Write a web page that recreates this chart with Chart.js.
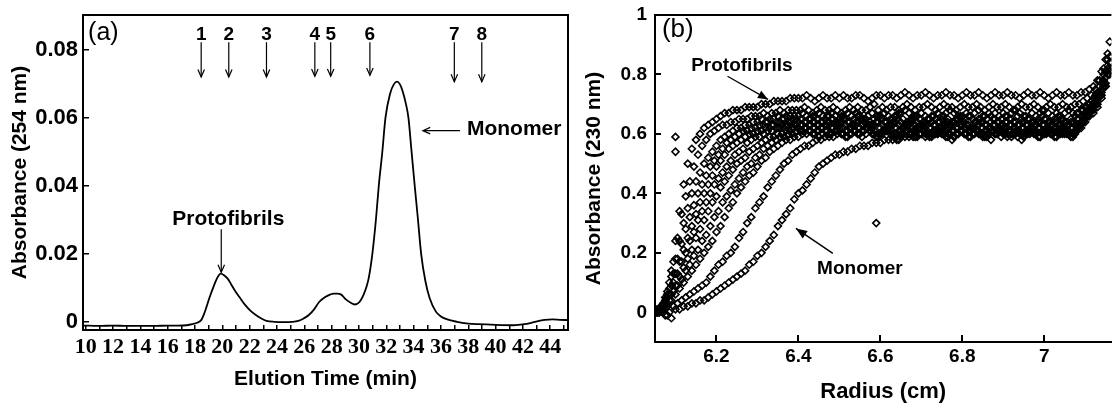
<!DOCTYPE html>
<html>
<head>
<meta charset="utf-8">
<title>Protofibrils vs monomer</title>
<script src="https://cdn.jsdelivr.net/npm/chart.js@4.4.0/dist/chart.umd.min.js"></script>
<style>
  html, body { margin: 0; padding: 0; background: #fff; }
  #wrap { position: relative; width: 1117px; height: 407px; overflow: hidden; }
  .panel { position: absolute; top: 0; height: 407px; }
  #panelA { left: 0; width: 575px; }
  #panelB { left: 575px; width: 542px; }
</style>
</head>
<body>
<div id="wrap">
  <div class="panel" id="panelA"><canvas id="chartA"></canvas></div>
  <div class="panel" id="panelB"><canvas id="chartB"></canvas></div>
</div>
<script>
// ---- panel (a): SEC trace ----
const elutionTime = [9.8, 11, 12, 13, 14, 15, 16, 16.7, 17.4, 17.8, 18.2, 18.45, 18.65, 18.84, 19.1, 19.35, 19.6, 19.87,
  20.1, 20.39, 20.65, 20.9, 21.3, 21.68, 22.05, 22.45, 22.85, 23.23, 23.8, 24.52, 25.1, 25.56, 25.95, 26.33, 26.7,
  27.1, 27.5, 27.88, 28.15, 28.4, 28.7, 29.04, 29.4, 29.69, 29.95, 30.15, 30.34, 30.55, 30.72, 30.98, 31.24, 31.45,
  31.71, 31.94, 32.27, 32.55, 32.79, 33.0, 33.18, 33.44, 33.62, 33.85, 34.08, 34.32, 34.55, 34.86, 35.17, 35.63, 36.0,
  36.41, 37.18, 38.0, 38.73, 40.0, 41.32, 42.09, 42.6, 43.13, 43.6, 44.16, 44.7, 45.3];
const absorbance254 = [-0.0011, -0.0012, -0.0011, -0.0012, -0.0012, -0.0012, -0.0011, -0.0011, -0.001, -0.0007, -0.0002,
  0.0005, 0.0022, 0.0044, 0.0076, 0.0103, 0.0127, 0.0142,
  0.0138, 0.0127, 0.011, 0.0093, 0.007, 0.0049, 0.0033, 0.002, 0.001, 0.0003, 0, -0.0001, 0, 0.0003, 0.001, 0.002, 0.0036,
  0.0059, 0.0072, 0.008, 0.0083, 0.0083, 0.008, 0.0066, 0.0056, 0.0051, 0.0055, 0.0065, 0.008, 0.0103, 0.013, 0.02, 0.03, 0.04,
  0.05, 0.06, 0.067, 0.0698, 0.0706, 0.0698, 0.068, 0.064, 0.06, 0.05, 0.04, 0.03, 0.02, 0.012, 0.007, 0.003, 0.0016,
  0.0008, 0, -0.0005, -0.0007, -0.0009, -0.001, -0.0007, -0.0003, 0.0002, 0.0006, 0.0007, 0.0006, 0.0005];
const timeTicks = [10, 11, 12, 13, 14, 15, 16, 17, 18, 19, 20, 21, 22, 23, 24, 25, 26, 27, 28, 29, 30,
  31, 32, 33, 34, 35, 36, 37, 38, 39, 40, 41, 42, 43, 44, 45];
const timeTickLabels = ['10', '12', '14', '16', '18', '20', '22', '24', '26', '28', '30', '32', '34', '36', '38', '40', '42', '44'];
const absTicksA = [0, 0.02, 0.04, 0.06, 0.08];
const absTickLabelsA = ['0', '0.02', '0.04', '0.06', '0.08'];
// fraction markers 1..8
const markerLabels = ['1', '2', '3', '4', '5', '6', '7', '8'];
const markerTimes = [18.45, 20.47, 23.23, 26.77, 27.93, 30.8, 36.98, 38.99];
const markerTips = [0.072, 0.072, 0.072, 0.0722, 0.0722, 0.0725, 0.0706, 0.0706];

// ---- panel (b): sedimentation scans ----
const radiusGrid1 = [6.05, 6.06, 6.07, 6.08, 6.09, 6.10, 6.11, 6.12, 6.13, 6.14,
  6.15, 6.16, 6.17, 6.18, 6.19, 6.20, 6.21, 6.22, 6.23, 6.24,
  6.25, 6.26, 6.27, 6.28, 6.29, 6.30, 6.31, 6.32, 6.33, 6.34,
  6.35, 6.36, 6.37, 6.38, 6.39, 6.40, 6.41, 6.42, 6.43, 6.44,
  6.45, 6.46, 6.47, 6.48, 6.49, 6.50, 6.51, 6.52, 6.53, 6.54,
  6.55, 6.56, 6.57, 6.58, 6.59, 6.60, 6.61, 6.62, 6.63, 6.64,
  6.65, 6.66, 6.67, 6.68, 6.69, 6.70, 6.71, 6.72, 6.73, 6.74,
  6.75, 6.76, 6.77, 6.78, 6.79, 6.80, 6.81, 6.82, 6.83, 6.84,
  6.85, 6.86, 6.87, 6.88, 6.89, 6.90, 6.91, 6.92, 6.93, 6.94,
  6.95, 6.96, 6.97, 6.98, 6.99, 7.00, 7.01, 7.02, 7.03, 7.04,
  7.05, 7.06, 7.07, 7.08, 7.09, 7.10, 7.11, 7.12, 7.13, 7.14,
  7.15, 7.16];
const radiusGrid2 = [6.055, 6.065, 6.075, 6.085, 6.095, 6.105, 6.115, 6.125, 6.135, 6.145,
  6.155, 6.165, 6.175, 6.185, 6.195, 6.205, 6.215, 6.225, 6.235, 6.245,
  6.255, 6.265, 6.275, 6.285, 6.295, 6.305, 6.315, 6.325, 6.335, 6.345,
  6.355, 6.365, 6.375, 6.385, 6.395, 6.405, 6.415, 6.425, 6.435, 6.445,
  6.455, 6.465, 6.475, 6.485, 6.495, 6.505, 6.515, 6.525, 6.535, 6.545,
  6.555, 6.565, 6.575, 6.585, 6.595, 6.605, 6.615, 6.625, 6.635, 6.645,
  6.655, 6.665, 6.675, 6.685, 6.695, 6.705, 6.715, 6.725, 6.735, 6.745,
  6.755, 6.765, 6.775, 6.785, 6.795, 6.805, 6.815, 6.825, 6.835, 6.845,
  6.855, 6.865, 6.875, 6.885, 6.895, 6.905, 6.915, 6.925, 6.935, 6.945,
  6.955, 6.965, 6.975, 6.985, 6.995, 7.005, 7.015, 7.025, 7.035, 7.045,
  7.055, 7.065, 7.075, 7.085, 7.095, 7.105, 7.115, 7.125, 7.135, 7.145,
  7.155];

const scanA = [.01,0,.02,.06,.14,.24,.34,.43,.50,.55,.58,.60,.62,.63,.64,.65,.66,.67,.67,.68,.68,.68,.69,.69,.69,.69,.70,.70,.70,.71,.71,.71,.71,.72,.72,
  .72,.72,.73,.72,.71,.72,.73,.72,.72,.73,.72,.73,.72,.72,.73,.73,.72,.71,.72,.73,.73,.72,.73,.73,.72,.73,.74,.73,.72,.73,.73,.74,.73,.72,
  .73,.73,.74,.73,.73,.72,.73,.74,.73,.73,.74,.73,.72,.73,.74,.73,.73,.74,.73,.73,.72,.73,.74,.73,.73,.74,.73,.72,.73,.74,.73,.73,.74,.73,
  .73,.74,.74,.75,.76,.78,.81,.85,.91];
const scanB = [0,.02,.05,.10,.17,.25,.33,.39,.44,.49,.53,.56,.58,.60,.61,.62,.63,.63,.64,.64,.65,.65,.65,.66,.66,.66,.67,.66,.67,.67,.68,.67,.68,.68,.68,
  .68,.69,.68,.67,.68,.69,.68,.68,.69,.68,.67,.68,.69,.68,.69,.68,.68,.69,.70,.68,.69,.68,.69,.69,.68,.69,.70,.69,.68,.69,.69,.70,.69,.68,
  .69,.70,.69,.69,.68,.69,.70,.69,.69,.70,.69,.68,.69,.70,.69,.69,.70,.69,.68,.69,.70,.69,.69,.70,.69,.68,.69,.70,.69,.69,.70,.69,.69,.70,
  .70,.71,.72,.73,.75,.78,.82,.87];
const scanC = [0,.01,.03,.07,.12,.18,.24,.30,.35,.40,.44,.47,.50,.52,.54,.56,.58,.59,.60,.61,.62,.62,.63,.63,.64,.64,.65,.64,.65,.65,.66,.65,.66,.66,.66,
  .66,.67,.66,.65,.66,.67,.66,.66,.67,.66,.65,.66,.67,.66,.67,.66,.65,.66,.67,.66,.66,.67,.66,.65,.66,.67,.68,.67,.66,.66,.67,.66,.65,.66,
  .67,.66,.67,.68,.67,.66,.66,.67,.66,.67,.68,.66,.65,.66,.67,.66,.67,.66,.67,.68,.67,.66,.65,.67,.66,.67,.68,.67,.66,.67,.66,.67,.68,.67,
  .67,.68,.69,.70,.72,.74,.77,.81,.86];
const scanD = [.01,.02,.04,.08,.13,.18,.23,.28,.32,.36,.40,.43,.46,.49,.51,.53,.55,.57,.58,.59,.60,.61,.61,.62,.62,.63,.63,.64,.63,.64,.64,.65,.64,.65,.65,
  .65,.64,.65,.66,.65,.64,.65,.66,.65,.64,.66,.65,.64,.65,.66,.65,.65,.64,.65,.66,.65,.64,.65,.66,.67,.65,.64,.65,.66,.65,.64,.65,.66,.65,
  .64,.66,.65,.64,.65,.66,.65,.66,.65,.64,.65,.66,.67,.65,.64,.65,.66,.65,.64,.66,.65,.66,.65,.64,.65,.66,.65,.64,.65,.66,.65,.64,.65,.66,
  .67,.68,.69,.71,.73,.76,.80,.85];
const scanE = [0,.01,.02,.05,.09,.13,.17,.21,.25,.29,.33,.37,.40,.43,.46,.49,.51,.53,.55,.56,.57,.58,.59,.60,.60,.61,.61,.62,.62,.63,.62,.63,.63,.64,.63,
  .64,.63,.64,.65,.64,.63,.64,.64,.65,.63,.64,.65,.64,.63,.64,.65,.64,.63,.62,.64,.65,.64,.63,.64,.65,.64,.63,.64,.65,.64,.63,.64,.65,.63,
  .64,.65,.64,.63,.64,.65,.64,.63,.62,.64,.65,.64,.63,.64,.65,.64,.63,.64,.65,.64,.63,.64,.65,.64,.63,.64,.65,.64,.63,.64,.65,.64,.63,.64,
  .65,.66,.67,.68,.70,.72,.75,.79,.84];
const scanF = [0,.01,.03,.06,.10,.13,.17,.20,.24,.27,.31,.34,.37,.40,.43,.45,.47,.49,.51,.53,.54,.55,.57,.58,.59,.59,.60,.61,.61,.62,.62,.62,.63,.62,.63,
  .63,.62,.63,.64,.63,.62,.63,.64,.62,.63,.64,.63,.62,.63,.64,.63,.62,.61,.63,.64,.63,.62,.63,.64,.63,.62,.63,.64,.63,.62,.61,.63,.64,.63,
  .62,.63,.64,.63,.62,.63,.64,.63,.62,.63,.64,.63,.62,.63,.61,.63,.64,.63,.62,.63,.64,.63,.62,.63,.64,.63,.62,.63,.64,.63,.62,.63,.64,.63,
  .65,.66,.68,.69,.71,.74,.78,.83];
const scanG = [.01,0,.01,.03,.06,.09,.12,.15,.18,.21,.25,.28,.31,.34,.37,.39,.42,.44,.46,.48,.50,.51,.52,.54,.55,.56,.57,.58,.59,.59,.60,.60,.61,.61,.62,
  .62,.61,.62,.63,.62,.61,.62,.63,.62,.61,.63,.62,.61,.62,.63,.62,.61,.62,.63,.64,.62,.61,.62,.63,.62,.61,.62,.63,.62,.61,.62,.63,.62,.61,
  .60,.62,.63,.62,.61,.62,.63,.62,.61,.62,.63,.62,.61,.62,.63,.62,.61,.62,.63,.62,.61,.62,.63,.62,.61,.62,.63,.62,.61,.62,.63,.62,.61,.62,
  .63,.64,.66,.67,.69,.71,.74,.77,.82];
const scanH2 = [0,.01,.02,.04,.07,.09,.11,.14,.16,.19,.21,.24,.26,.29,.32,.34,.37,.39,.41,.43,.45,.47,.49,.50,.52,.53,.55,.56,.57,.58,.59,.59,.60,.60,.61,
  .61,.62,.61,.60,.61,.62,.61,.60,.62,.61,.60,.61,.62,.61,.60,.61,.62,.63,.61,.60,.61,.62,.61,.60,.61,.62,.61,.60,.61,.62,.63,.61,.60,.61,
  .62,.61,.60,.61,.62,.61,.60,.61,.62,.61,.60,.61,.62,.61,.60,.61,.62,.61,.60,.61,.62,.61,.60,.61,.62,.61,.60,.61,.62,.61,.60,.61,.62,.61,
  .63,.64,.66,.68,.70,.73,.77,.82];
const scanI = [0,0,.01,.02,.04,.06,.08,.10,.12,.14,.16,.18,.20,.22,.24,.27,.29,.32,.35,.37,.40,.42,.44,.46,.47,.49,.51,.52,.54,.55,.56,.57,.58,.58,.59,
  .59,.60,.60,.61,.60,.59,.60,.61,.60,.61,.62,.60,.59,.60,.61,.60,.61,.62,.60,.59,.60,.61,.62,.60,.59,.60,.61,.60,.61,.62,.60,.59,.60,.61,
  .60,.61,.62,.60,.59,.60,.61,.60,.61,.62,.60,.59,.60,.61,.60,.61,.62,.60,.59,.60,.61,.60,.61,.62,.60,.59,.60,.61,.60,.61,.62,.60,.61,.60,
  .62,.63,.65,.66,.68,.70,.73,.76,.81];
const scanH = [0,.01,-.01,0,.02,.03,.04,.05,.06,.07,.08,.09,.10,.12,.14,.16,.17,.19,.20,.22,.25,.27,.30,.32,.35,.37,.39,.42,.44,.46,.48,.50,.51,.53,.54,
  .55,.56,.56,.57,.58,.58,.59,.59,.59,.60,.60,.59,.60,.61,.60,.59,.60,.61,.60,.59,.60,.61,.60,.59,.58,.60,.61,.60,.59,.60,.61,.60,.59,.60,
  .61,.60,.59,.58,.60,.61,.60,.59,.60,.61,.60,.59,.60,.61,.60,.59,.60,.61,.60,.59,.58,.60,.61,.60,.59,.60,.61,.60,.59,.60,.61,.60,.59,.60,
  .62,.64,.66,.68,.70,.73,.76,.80];
const scanM = [0,.01,0,-.01,-.02,.01,.01,.02,.02,.03,.03,.04,.04,.05,.06,.07,.08,.09,.10,.11,.12,.13,.14,.16,.17,.19,.20,.22,.24,.26,.29,.31,.33,.35,.38,
  .40,.41,.43,.45,.47,.49,.50,.51,.52,.53,.53,.54,.54,.55,.55,.56,.56,.56,.57,.57,.57,.58,.58,.58,.58,.59,.59,.59,.59,.59,.60,.60,.59,.60,
  .61,.60,.59,.60,.59,.60,.61,.60,.59,.60,.61,.60,.59,.58,.60,.61,.60,.59,.60,.61,.60,.59,.60,.61,.60,.59,.60,.61,.60,.59,.60,.61,.60,.59,
  .61,.62,.64,.66,.67,.69,.72,.76,.80];
const outlierRadius = [6.10, 6.10, 6.59];
const outlierAbs = [0.59, 0.54, 0.30];

const radiusTicks = [6.2, 6.4, 6.6, 6.8, 7];
const radiusTickLabels = ['6.2', '6.4', '6.6', '6.8', '7'];
const absTicksB = [0, 0.2, 0.4, 0.6, 0.8, 1];
const absTickLabelsB = ['0', '0.2', '0.4', '0.6', '0.8', '1'];

const scans = [
  [radiusGrid1, scanA], [radiusGrid2, scanB], [radiusGrid1, scanC], [radiusGrid2, scanD],
  [radiusGrid1, scanE], [radiusGrid2, scanF], [radiusGrid1, scanG], [radiusGrid2, scanH2],
  [radiusGrid1, scanI], [radiusGrid2, scanH], [radiusGrid1, scanM], [outlierRadius, outlierAbs]
];

const SANS = 'Liberation Sans, Arial, sans-serif';
const SERIF = 'Liberation Serif, Times New Roman, serif';

function drawArrow(ctx, x1, y1, x2, y2, head, filled) {
  const ang = Math.atan2(y2 - y1, x2 - x1);
  const spread = filled ? 0.38 : 0.42;
  ctx.beginPath();
  ctx.moveTo(x1, y1);
  ctx.lineTo(x2, y2);
  ctx.stroke();
  ctx.beginPath();
  ctx.moveTo(x2 - head * Math.cos(ang - spread), y2 - head * Math.sin(ang - spread));
  ctx.lineTo(x2, y2);
  ctx.lineTo(x2 - head * Math.cos(ang + spread), y2 - head * Math.sin(ang + spread));
  if (filled) { ctx.closePath(); ctx.fill(); } else { ctx.stroke(); }
}

// box round the plot area (right side only when asked)
const framePlugin = {
  id: 'frame',
  afterDraw(chart, args, opts) {
    const { ctx, chartArea: a } = chart;
    ctx.save();
    ctx.strokeStyle = '#000';
    ctx.lineWidth = 2;
    ctx.beginPath();
    if (opts.right) {
      ctx.rect(a.left, a.top, a.right - a.left, a.bottom - a.top);
    } else {
      ctx.moveTo(a.right, a.bottom);
      ctx.lineTo(a.left, a.bottom);
      ctx.lineTo(a.left, a.top);
      ctx.lineTo(a.right, a.top);
    }
    ctx.stroke();
    ctx.restore();
  }
};

// text + arrows, placed in data units
const notesPlugin = {
  id: 'notes',
  afterDraw(chart, args, opts) {
    const { ctx } = chart;
    const X = v => chart.scales.x.getPixelForValue(v);
    const Y = v => chart.scales.y.getPixelForValue(v);
    ctx.save();
    ctx.fillStyle = '#000';
    ctx.strokeStyle = '#000';
    ctx.textBaseline = 'middle';
    (opts.texts || []).forEach(t => {
      ctx.font = t.font;
      ctx.textAlign = t.align || 'center';
      ctx.fillText(t.text, X(t.x), Y(t.y));
    });
    (opts.arrows || []).forEach(a => {
      ctx.lineWidth = a.width || 1;
      drawArrow(ctx, X(a.x1), Y(a.y1), X(a.x2), Y(a.y2), a.head, a.filled);
    });
    ctx.restore();
  }
};

const markerTexts = markerLabels.map((lab, i) => ({
  text: lab, x: markerTimes[i], y: 0.0843, font: 'bold 19px ' + SANS
}));
const markerArrows = markerTimes.map((t, i) => ({
  x1: t, y1: 0.0822, x2: t, y2: markerTips[i], head: 8, width: 1.2
}));

new Chart(document.getElementById('chartA'), {
  type: 'line',
  data: {
    datasets: [{
      data: elutionTime.map((t, i) => ({ x: t, y: absorbance254[i] })),
      borderColor: '#000',
      borderWidth: 1.8,
      pointRadius: 0,
      cubicInterpolationMode: 'monotone',
      fill: false
    }]
  },
  options: {
    responsive: true,
    maintainAspectRatio: false,
    animation: false,
    events: [],
    layout: { padding: { top: 15, right: 7, left: 0, bottom: 0 } },
    plugins: {
      legend: { display: false },
      tooltip: { enabled: false },
      frame: { right: true },
      notes: {
        texts: [
          { text: '(a)', x: 10.17, y: 0.085, align: 'left', font: '25px ' + SANS },
          { text: 'Protofibrils', x: 20.44, y: 0.0301, font: 'bold 21px ' + SANS },
          { text: 'Monomer', x: 37.9, y: 0.0565, align: 'left', font: 'bold 21px ' + SANS }
        ].concat(markerTexts),
        arrows: [
          { x1: 19.92, y1: 0.0272, x2: 19.92, y2: 0.0146, head: 8, width: 1.2 },
          { x1: 37.39, y1: 0.0562, x2: 34.68, y2: 0.0562, head: 8, width: 1.2 }
        ].concat(markerArrows)
      }
    },
    scales: {
      x: {
        type: 'linear',
        min: 9.8,
        max: 45.3,
        afterFit: s => { s.height = 77; s.paddingLeft = 0; s.paddingRight = 0; },
        afterBuildTicks: s => { s.ticks = timeTicks.map(v => ({ value: v })); },
        ticks: {
          autoSkip: false, maxRotation: 0, minRotation: 0, padding: 9, color: '#000',
          font: { family: SERIF, size: 22, weight: 'bold' },
          callback: v => timeTickLabels.includes(String(v)) ? String(v) : ''
        },
        grid: { drawOnChartArea: false, drawTicks: true, tickLength: -5, color: '#000', lineWidth: 1.5 },
        border: { display: true, color: '#000', width: 2 },
        title: {
          display: true, text: 'Elution Time (min)', color: '#000',
          font: { family: SANS, size: 21, weight: 'bold' }, padding: { top: 0, bottom: 15 }
        }
      },
      y: {
        min: -0.0024,
        max: 0.0902,
        afterFit: s => { s.width = 83; s.paddingTop = 0; s.paddingBottom = 0; },
        afterBuildTicks: s => { s.ticks = absTicksA.map(v => ({ value: v })); },
        ticks: {
          padding: 11, color: '#000',
          font: { family: SANS, size: 22, weight: 'bold' },
          callback: (v, i) => absTickLabelsA[i]
        },
        grid: { drawOnChartArea: false, drawTicks: true, tickLength: -6, color: '#000', lineWidth: 1.5 },
        border: { display: true, color: '#000', width: 2 },
        title: {
          display: true, text: 'Absorbance (254 nm)', color: '#000',
          font: { family: SANS, size: 21, weight: 'bold' }, padding: { top: 8, bottom: 0 }
        }
      }
    }
  },
  plugins: [framePlugin, notesPlugin]
});

new Chart(document.getElementById('chartB'), {
  type: 'scatter',
  data: {
    datasets: scans.map(([r, a]) => ({
      data: r.map((x, i) => ({ x: x, y: a[i] })),
      pointStyle: 'rectRot',
      pointRadius: 3.5,
      borderWidth: 1.6,
      borderColor: '#000',
      backgroundColor: 'rgba(0,0,0,0)',
      showLine: false
    }))
  },
  options: {
    responsive: true,
    maintainAspectRatio: false,
    animation: false,
    events: [],
    layout: { padding: { top: 15, right: 0, left: 0, bottom: 0 } },
    plugins: {
      legend: { display: false },
      tooltip: { enabled: false },
      frame: { right: false },
      notes: {
        texts: [
          { text: '(b)', x: 6.067, y: 0.951, align: 'left', font: '26px ' + SANS },
          { text: 'Protofibrils', x: 6.262, y: 0.828, font: 'bold 19px ' + SANS },
          { text: 'Monomer', x: 6.55, y: 0.148, font: 'bold 19px ' + SANS }
        ],
        arrows: [
          { x1: 6.227, y1: 0.794, x2: 6.326, y2: 0.716, head: 11, filled: true, width: 1.3 },
          { x1: 6.484, y1: 0.198, x2: 6.394, y2: 0.282, head: 12, filled: true, width: 1.5 }
        ]
      }
    },
    scales: {
      x: {
        type: 'linear',
        min: 6.05,
        max: 7.164,
        afterFit: s => { s.height = 65; s.paddingLeft = 0; s.paddingRight = 0; },
        afterBuildTicks: s => { s.ticks = radiusTicks.map(v => ({ value: v })); },
        ticks: {
          autoSkip: false, maxRotation: 0, minRotation: 0, padding: 10, color: '#000',
          font: { family: SANS, size: 19, weight: 'bold' },
          callback: (v, i) => radiusTickLabels[i]
        },
        grid: { drawOnChartArea: false, drawTicks: true, tickLength: -7, color: '#000', lineWidth: 2 },
        border: { display: true, color: '#000', width: 2 },
        title: {
          display: true, text: 'Radius (cm)', color: '#000',
          font: { family: SANS, size: 22, weight: 'bold' }, padding: { top: 0, bottom: 2 }
        }
      },
      y: {
        min: -0.1,
        max: 1,
        afterFit: s => { s.width = 80; s.paddingTop = 0; s.paddingBottom = 0; },
        afterBuildTicks: s => { s.ticks = absTicksB.map(v => ({ value: v })); },
        ticks: {
          padding: 14, color: '#000',
          font: { family: SANS, size: 19, weight: 'bold' },
          callback: (v, i) => absTickLabelsB[i]
        },
        grid: { drawOnChartArea: false, drawTicks: true, tickLength: -6, color: '#000', lineWidth: 2 },
        border: { display: true, color: '#000', width: 2 },
        title: {
          display: true, text: 'Absorbance (230 nm)', color: '#000',
          font: { family: SANS, size: 21, weight: 'bold' }, padding: { top: 7, bottom: 0 }
        }
      }
    }
  },
  plugins: [framePlugin, notesPlugin]
});
</script>
</body>
</html>
